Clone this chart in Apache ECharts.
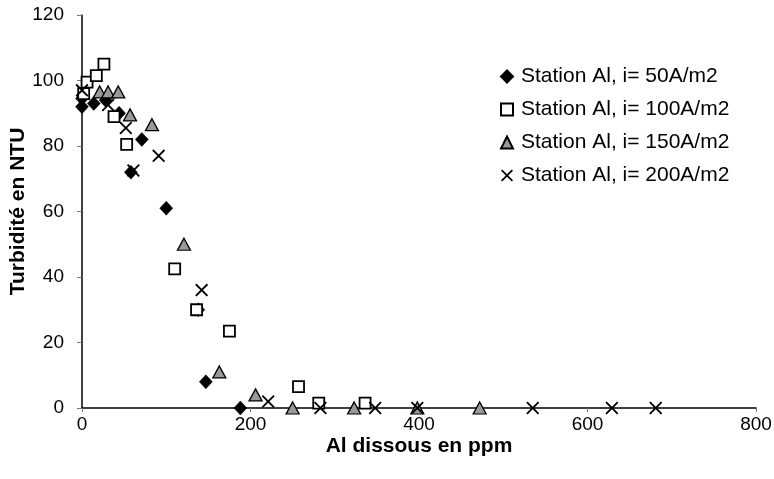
<!DOCTYPE html>
<html>
<head>
<meta charset="utf-8">
<script src="https://cdn.jsdelivr.net/npm/echarts@6/dist/echarts.min.js"></script>
<style>html,body{margin:0;padding:0;background:#fff}#c{width:774px;height:479px}</style>
</head>
<body>
<div id="c"></div>
<script>
const seriesNames = ['Station Al, i= 50A/m2','Station Al, i= 100A/m2','Station Al, i= 150A/m2','Station Al, i= 200A/m2'];
const xTicks = [0, 200, 400, 600, 800];
const yTicks = [0, 20, 40, 60, 80, 100, 120];
const d50 = [[0,92],[0,94.5],[14,93],[28,94],[44,90],[71,82],[58,72],[100,61],[138,30],[147,8],[188,0]];
const d100 = [[2,96],[6,99.5],[17,101.5],[26,105],[38,89],[53,80.5],[110,42.5],[136,30],[175,23.5],[257,6.5],[281,1.5],[336,1.5]];
const d150 = [[21,96.5],[31,96.5],[43,96.5],[57,89.5],[83,86.5],[121,50],[163,11],[206,4],[250,0],[323,0],[398,0],[472,0]];
const d200 = [[0,97],[31,92.5],[52,85.5],[61,72.5],[91,77],[142,36],[221,2],[283,0],[348,0],[398,0],[535,0],[629,0],[681,0]];

const crossPath = 'path://M0,1 L1,0 L5,4 L9,0 L10,1 L6,5 L10,9 L9,10 L5,6 L1,10 L0,9 L4,5 Z';
const FONT = 'Liberation Sans, Arial, sans-serif';

const chart = echarts.init(document.getElementById('c'), null, {renderer:'canvas'});
chart.setOption({
  animation:false,
  backgroundColor:'#fff',
  grid:{left:82, top:15, right:18, bottom:71, containLabel:false, outerBoundsMode:'none'},
  xAxis:{
    type:'value', min:xTicks[0], max:xTicks[xTicks.length-1], interval:200,
    name:'Al dissous en ppm', nameLocation:'middle', nameGap:28, nameMoveOverlap:false,
    nameTextStyle:{fontFamily:FONT, fontWeight:'bold', fontSize:21, color:'#000'},
    axisLine:{show:true, onZero:false, lineStyle:{color:'#000', width:1.5}},
    axisTick:{show:true, length:4, lineStyle:{color:'#777'}},
    axisLabel:{fontFamily:FONT, fontSize:19, color:'#000', margin:7},
    splitLine:{show:false}
  },
  yAxis:{
    type:'value', min:yTicks[0], max:yTicks[yTicks.length-1], interval:20,
    name:'Turbidité en NTU', nameLocation:'middle', nameGap:53, nameRotate:90, nameMoveOverlap:false,
    nameTextStyle:{fontFamily:FONT, fontWeight:'bold', fontSize:21, color:'#000'},
    axisLine:{show:true, lineStyle:{color:'#000', width:1.5}},
    axisTick:{show:true, length:5, lineStyle:{color:'#777'}},
    axisLabel:{fontFamily:FONT, fontSize:19, color:'#000', margin:18},
    splitLine:{show:false}
  },
  legend:{
    orient:'vertical', left:495, top:61, itemGap:12, itemWidth:12, itemHeight:12,
    textStyle:{fontFamily:FONT, fontSize:21, color:'#000', padding:[0,0,0,3]},
    data:seriesNames
  },
  series:[
    {name:seriesNames[0], type:'scatter', data:d50, symbol:'diamond', symbolSize:[13,14],
     itemStyle:{color:'#000', borderColor:'#000', borderWidth:0.5, opacity:1}},
    {name:seriesNames[1], type:'scatter', data:d100, symbol:'rect', symbolSize:11,
     itemStyle:{color:'#fff', borderColor:'#000', borderWidth:1.8, opacity:1}},
    {name:seriesNames[2], type:'scatter', data:d150, symbol:'triangle', symbolSize:[13,12],
     itemStyle:{color:'#999', borderColor:'#000', borderWidth:1.3, opacity:1}},
    {name:seriesNames[3], type:'scatter', data:d200, symbol:crossPath, symbolSize:13,
     itemStyle:{color:'#000', opacity:1}}
  ]
});
</script>
</body>
</html>
